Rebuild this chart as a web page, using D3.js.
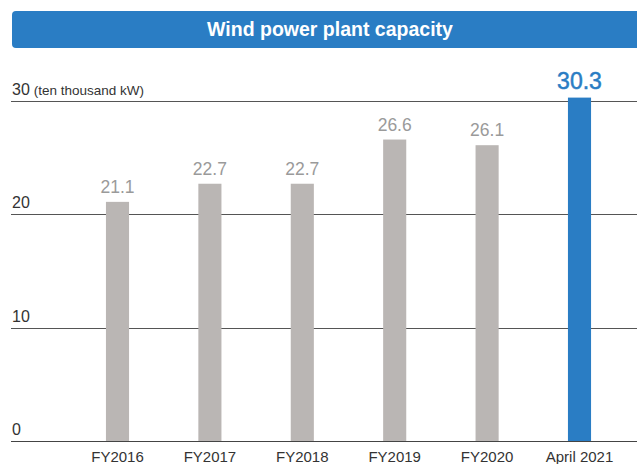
<!DOCTYPE html>
<html><head><meta charset="utf-8">
<script src="https://cdn.jsdelivr.net/npm/d3@7/dist/d3.min.js"></script>
<style>body{margin:0;background:#fff;}svg{display:block;}</style>
</head><body>
<svg id="c" width="637" height="464"></svg>
<script>
const categories = ["FY2016","FY2017","FY2018","FY2019","FY2020","April 2021"];
const values = [21.1, 22.7, 22.7, 26.6, 26.1, 30.3];
const highlight = [false,false,false,false,false,true];
const yTicks = [0,10,20,30];
const title = "Wind power plant capacity";
const unit = "(ten thousand kW)";

const font = "'Liberation Sans', Arial, sans-serif";
const svg = d3.select("#c");
const x = d3.scaleBand().domain(categories).range([71.3, 625.7]).paddingInner(0.75).paddingOuter(0.375);
const y = d3.scaleLinear().domain([0,30]).range([441, 101]);

// title bar
svg.append("rect").attr("x",12).attr("y",11).attr("width",640).attr("height",37).attr("rx",4).attr("fill","#2a7dc4");
svg.append("text").attr("x",330).attr("y",36).attr("text-anchor","middle").attr("fill","#fff")
  .attr("font-family",font).attr("font-weight","bold").attr("font-size",19.5).text(title);

// grid
const g = svg.append("g");
g.selectAll("line.grid").data(yTicks).join("line").attr("class","grid")
  .attr("x1",11).attr("x2",637).attr("y1",d=>Math.round(y(d))+0.5).attr("y2",d=>Math.round(y(d))+0.5)
  .attr("stroke",d=>d===0?"#444":"#555").attr("stroke-width",1);
g.selectAll("text.tick").data(yTicks).join("text").attr("class","tick")
  .attr("x",12).attr("y",d=>y(d)-6).attr("fill","#333").attr("font-family",font).attr("font-size",16)
  .each(function(d){
    const t=d3.select(this);
    t.append("tspan").text(d);
    if(d===30) t.append("tspan").attr("font-size",13.5).attr("dx",4).text(unit);
  });

// bars
svg.selectAll("rect.bar").data(values).join("rect").attr("class","bar")
  .attr("x",(d,i)=>x(categories[i])).attr("width",x.bandwidth())
  .attr("y",d=>y(d)).attr("height",d=>y(0)-y(d))
  .attr("fill",(d,i)=>highlight[i]?"#2a7dc4":"#bab6b4");

// value labels
svg.selectAll("text.val").data(values).join("text").attr("class","val")
  .attr("x",(d,i)=>x(categories[i])+x.bandwidth()/2).attr("y",(d,i)=>y(d)-9)
  .attr("text-anchor","middle").attr("font-family",font)
  .attr("font-size",(d,i)=>highlight[i]?23:17.5)
  .attr("stroke",(d,i)=>highlight[i]?"#2a7dc4":"none")
  .attr("stroke-width",0.5)
  .attr("fill",(d,i)=>highlight[i]?"#2a7dc4":"#9a9a9a")
  .text(d=>d.toFixed(1));

// x labels
svg.selectAll("text.cat").data(categories).join("text").attr("class","cat")
  .attr("x",d=>x(d)+x.bandwidth()/2).attr("y",462).attr("text-anchor","middle")
  .attr("font-family",font).attr("font-size",15).attr("fill","#333").text(d=>d);
</script>
</body></html>
